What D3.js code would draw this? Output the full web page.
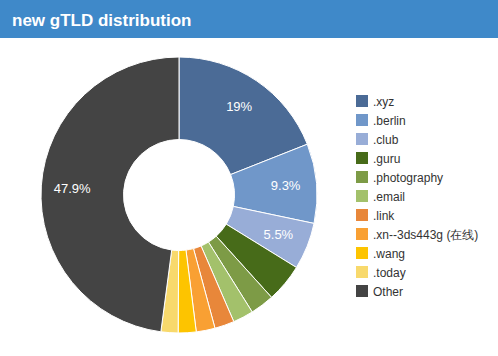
<!DOCTYPE html>
<html><head><meta charset="utf-8">
<script src="https://cdn.jsdelivr.net/npm/d3@7"></script>
<style>
html,body{margin:0;padding:0;background:#fff;}
svg{display:block;font-family:"Liberation Sans",Arial,sans-serif;}
</style></head>
<body>
<svg id="chart" width="498" height="356"></svg>
<script>
const categories = [".xyz", ".berlin", ".club", ".guru", ".photography", ".email", ".link", ".xn--3ds443g (在线)", ".wang", ".today", "Other"];
const values = [19, 9.3, 5.5, 4.5, 2.8, 2.4, 2.3, 2.2, 2.1, 2.0, 47.9];
const colors = ["#4b6b96", "#7097c9", "#98add7", "#476b19", "#7d9b46", "#a3c16b", "#e8873a", "#f9a033", "#fdc400", "#f8d96c", "#444444"];
const title = "new gTLD distribution";

const svg = d3.select("#chart");
svg.append("rect").attr("x",0).attr("y",0).attr("width",498).attr("height",38).attr("fill","#3f89c9");
svg.append("text").attr("x",12).attr("y",26).attr("fill","#fff").attr("font-size",17).attr("font-weight","bold").text(title);

const data = categories.map((c,i)=>({name:c, value:values[i], color:colors[i]}));
const pie = d3.pie().sort(null).value(d=>d.value);
const arcs = pie(data);
const arc = d3.arc().innerRadius(55.5).outerRadius(138);
const labelArc = d3.arc().innerRadius(107).outerRadius(107);

const g = svg.append("g").attr("transform","translate(179,195)");
g.selectAll("path").data(arcs).enter().append("path")
  .attr("d",arc).attr("fill",d=>d.data.color)
  .attr("stroke","#fff").attr("stroke-width",1);

g.selectAll("text.lbl").data(arcs.filter(d=>d.data.value>=5)).enter().append("text")
  .attr("class","lbl")
  .attr("transform",d=>`translate(${labelArc.centroid(d)})`)
  .attr("text-anchor","middle").attr("dy","0.35em")
  .attr("fill","#fff").attr("font-size",13)
  .text(d=>d.data.value+"%");

const legend = svg.append("g").attr("transform","translate(356,95)");
const rows = legend.selectAll("g").data(data).enter().append("g")
  .attr("transform",(d,i)=>`translate(0,${i*19})`);
rows.append("rect").attr("width",12).attr("height",12).attr("fill",d=>d.color);
rows.append("text").attr("x",17).attr("y",10.5).attr("font-size",12).attr("fill","#333").text(d=>d.name);
</script>
</body></html>
